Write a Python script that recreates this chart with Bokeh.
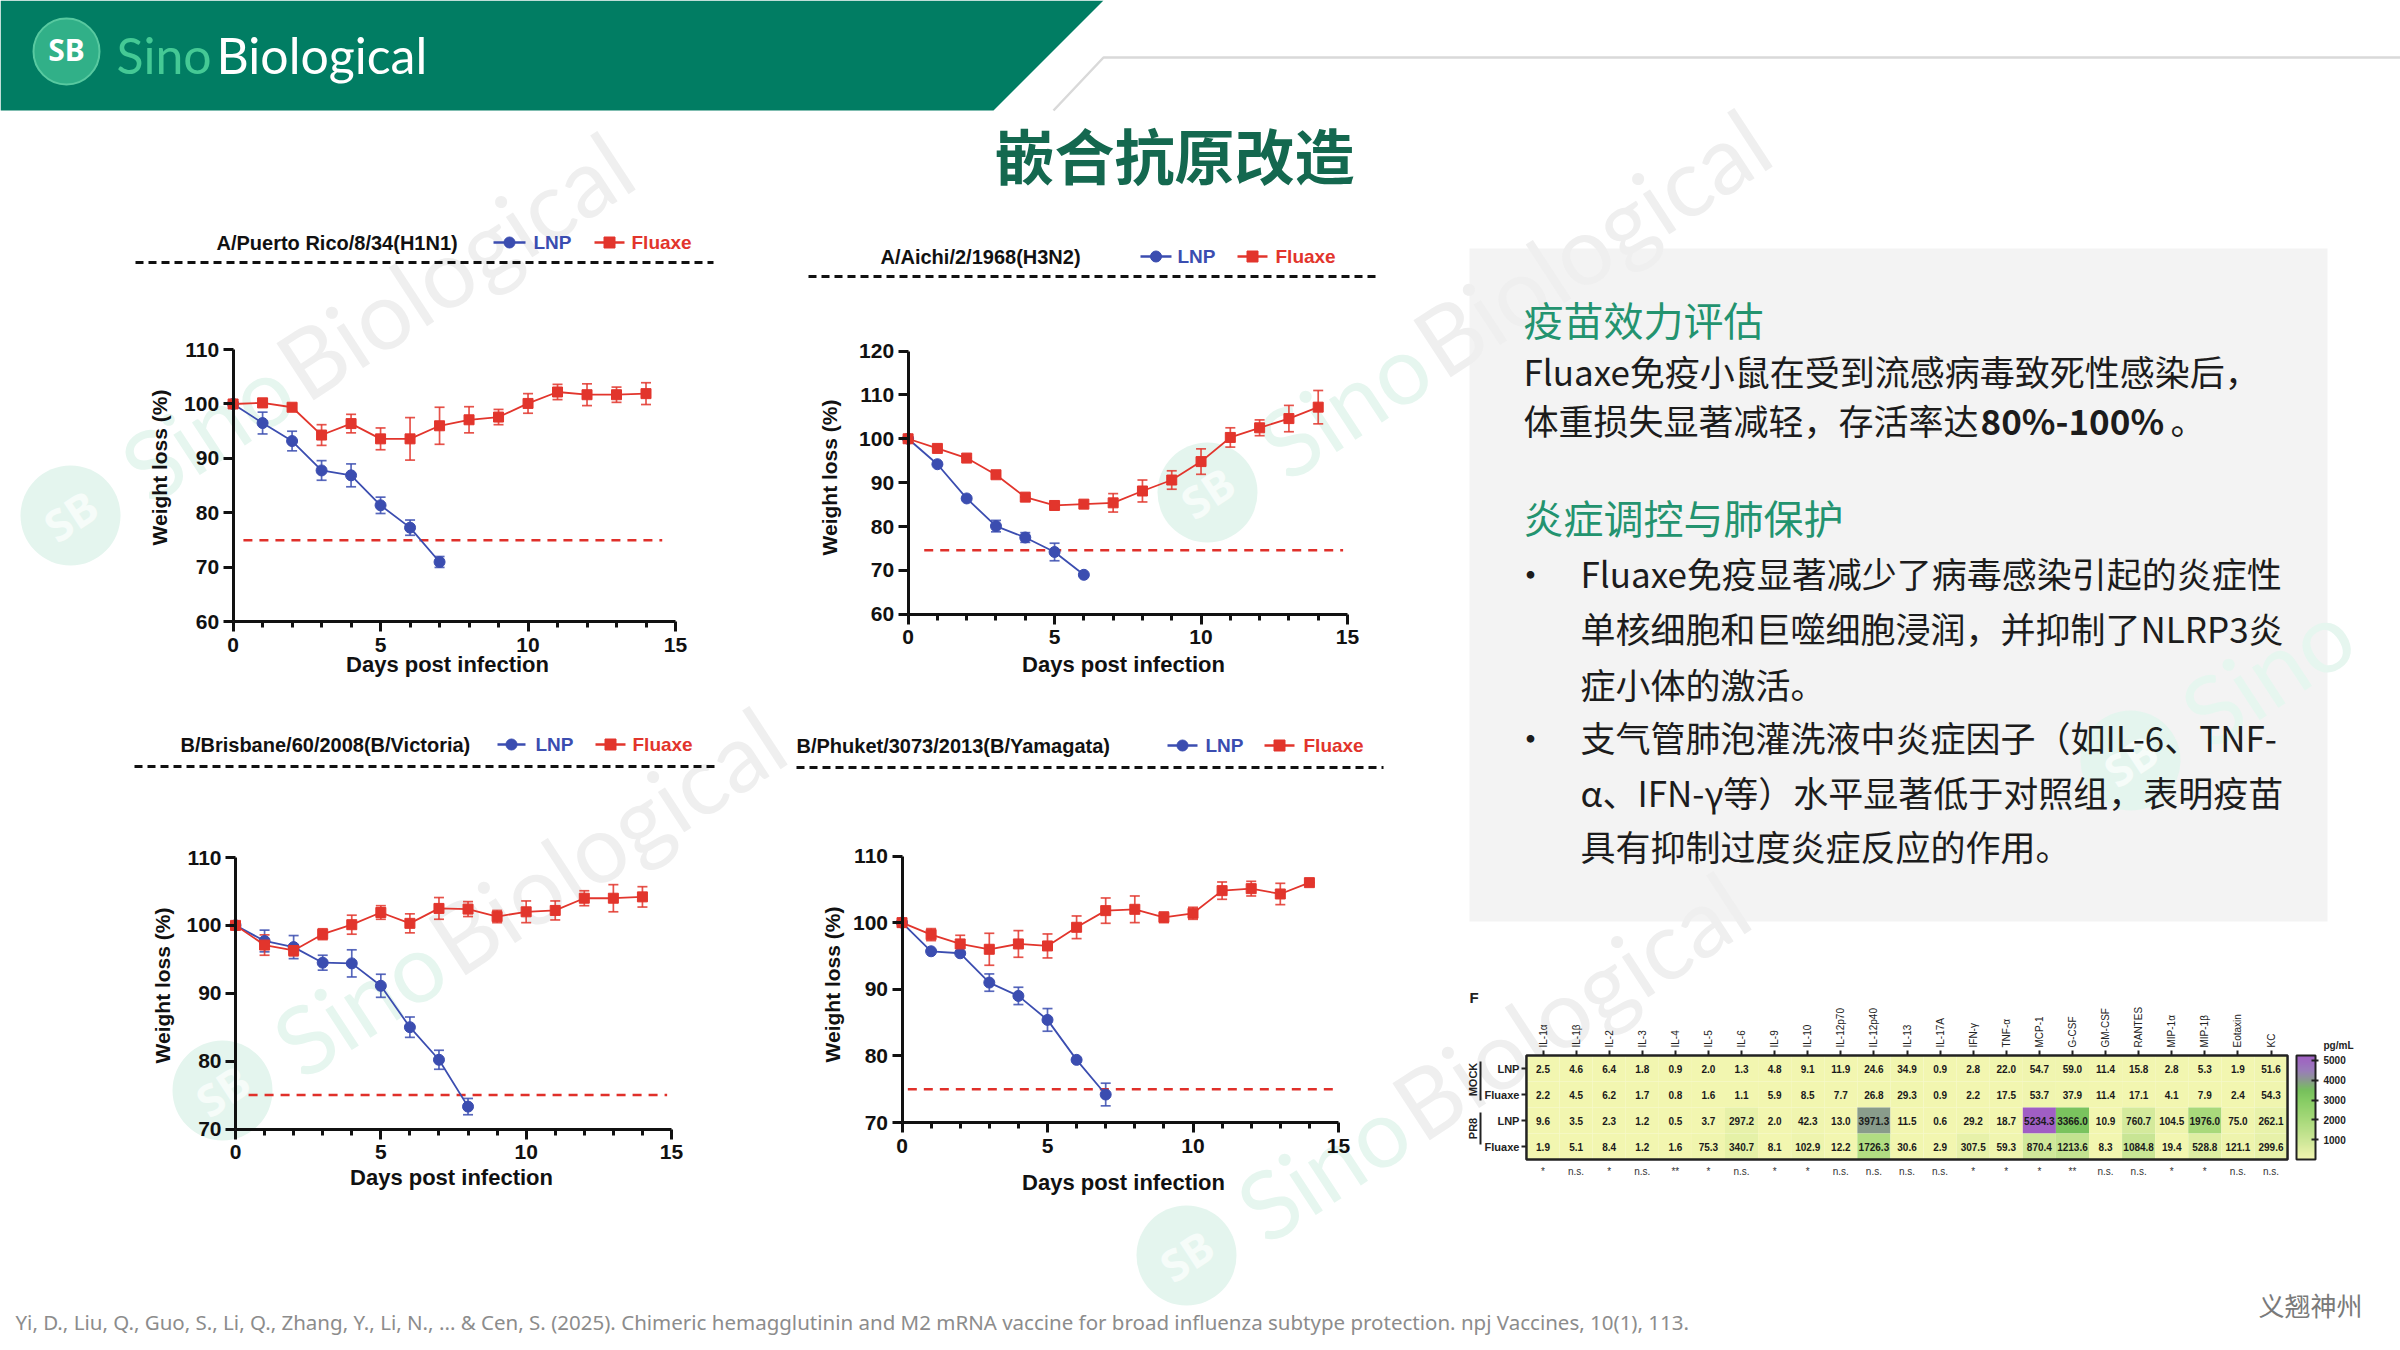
import math
import numpy as np
from bokeh.plotting import figure
from bokeh.models import (Range1d, LinearAxis, FixedTicker, Whisker, TeeHead,
                          ColumnDataSource, LinearColorMapper, ColorBar)
from bokeh.core.properties import value
from bokeh.embed import file_html
from bokeh.resources import INLINE

W, H = 2400, 1350

# ---------------- body weight after challenge (% of day 0, mean and SEM) ----------------
DAYS = list(range(15))
X_TICKS = [0, 5, 10, 15]

H1N1_LNP = [100.0, 96.5, 93.2, 87.8, 86.9, 81.4, 77.3, 71.0]
H1N1_LNP_ERR = [0.0, 2.0, 1.8, 1.8, 2.1, 1.5, 1.4, 1.0]
H1N1_FLUAXE = [100.0, 100.2, 99.4, 94.3, 96.4, 93.6, 93.6, 96.0, 97.1, 97.6, 100.1, 102.2, 101.7, 101.7, 101.9]
H1N1_FLUAXE_ERR = [0.0, 0.8, 0.6, 1.9, 1.7, 2.0, 3.9, 3.4, 2.4, 1.4, 1.8, 1.4, 2.0, 1.4, 2.0]

H3N2_LNP = [100.0, 94.2, 86.4, 80.1, 77.5, 74.2, 69.0]
H3N2_LNP_ERR = [0.0, 0.0, 0.0, 1.3, 1.1, 2.0, 0.0]
H3N2_FLUAXE = [100.0, 97.8, 95.6, 91.8, 86.7, 84.8, 85.1, 85.4, 88.1, 90.6, 94.8, 100.3, 102.5, 104.6, 107.2]
H3N2_FLUAXE_ERR = [0.0, 0.0, 0.0, 0.0, 0.0, 0.0, 0.0, 2.1, 2.5, 2.1, 2.9, 2.2, 1.8, 3.0, 3.8]

BVIC_LNP = [100.0, 97.7, 96.8, 94.5, 94.4, 91.1, 85.0, 80.2, 73.3]
BVIC_LNP_ERR = [0.0, 1.6, 1.7, 1.1, 2.0, 1.7, 1.5, 1.4, 1.2]
BVIC_FLUAXE = [100.0, 97.1, 96.3, 98.7, 100.1, 101.9, 100.3, 102.5, 102.4, 101.3, 102.0, 102.2, 104.0, 104.0, 104.2]
BVIC_FLUAXE_ERR = [0.0, 1.5, 0.8, 0.8, 1.4, 1.0, 1.4, 1.6, 1.1, 0.9, 1.6, 1.4, 1.1, 2.0, 1.5]

BYAM_LNP = [100.0, 95.7, 95.4, 91.0, 89.0, 85.4, 79.4, 74.2]
BYAM_LNP_ERR = [0.0, 0.0, 0.0, 1.3, 1.3, 1.7, 0.0, 1.7]
BYAM_FLUAXE = [100.0, 98.2, 96.8, 96.0, 96.8, 96.5, 99.3, 101.8, 102.0, 100.8, 101.4, 104.8, 105.1, 104.3, 106.0]
BYAM_FLUAXE_ERR = [0.0, 0.9, 1.3, 2.4, 2.0, 1.8, 1.7, 1.9, 2.0, 0.8, 0.9, 1.3, 1.1, 1.6, 0.0]

STRAINS = ["A/Puerto Rico/8/34(H1N1)", "A/Aichi/2/1968(H3N2)",
           "B/Brisbane/60/2008(B/Victoria)", "B/Phuket/3073/2013(B/Yamagata)"]
Y_TICKS = [[60, 70, 80, 90, 100, 110], [60, 70, 80, 90, 100, 110, 120],
           [70, 80, 90, 100, 110], [70, 80, 90, 100, 110]]
CUTOFF = [75.0, 74.6, 75.0, 75.0]

SERIES = [(H1N1_LNP, H1N1_LNP_ERR, H1N1_FLUAXE, H1N1_FLUAXE_ERR),
          (H3N2_LNP, H3N2_LNP_ERR, H3N2_FLUAXE, H3N2_FLUAXE_ERR),
          (BVIC_LNP, BVIC_LNP_ERR, BVIC_FLUAXE, BVIC_FLUAXE_ERR),
          (BYAM_LNP, BYAM_LNP_ERR, BYAM_FLUAXE, BYAM_FLUAXE_ERR)]

# ---------------- BALF cytokines (pg/mL) ----------------
CYTOKINES = ["IL-1α", "IL-1β", "IL-2", "IL-3", "IL-4", "IL-5", "IL-6", "IL-9", "IL-10",
             "IL-12p70", "IL-12p40", "IL-13", "IL-17A", "IFN-γ", "TNF-α", "MCP-1", "G-CSF",
             "GM-CSF", "RANTES", "MIP-1α", "MIP-1β", "Eotaxin", "KC"]
GROUP_ROWS = ["LNP", "Fluaxe", "LNP", "Fluaxe"]
MOCK_LNP = [2.5, 4.6, 6.4, 1.8, 0.9, 2.0, 1.3, 4.8, 9.1, 11.9, 24.6, 34.9, 0.9, 2.8, 22.0,
            54.7, 59.0, 11.4, 15.8, 2.8, 5.3, 1.9, 51.6]
MOCK_FLUAXE = [2.2, 4.5, 6.2, 1.7, 0.8, 1.6, 1.1, 5.9, 8.5, 7.7, 26.8, 29.3, 0.9, 2.2, 17.5,
               53.7, 37.9, 11.4, 17.1, 4.1, 7.9, 2.4, 54.3]
PR8_LNP = [9.6, 3.5, 2.3, 1.2, 0.5, 3.7, 297.2, 2.0, 42.3, 13.0, 3971.3, 11.5, 0.6, 29.2, 18.7,
           5234.3, 3366.0, 10.9, 760.7, 104.5, 1976.0, 75.0, 262.1]
PR8_FLUAXE = [1.9, 5.1, 8.4, 1.2, 1.6, 75.3, 340.7, 8.1, 102.9, 12.2, 1726.3, 30.6, 2.9, 307.5,
              59.3, 870.4, 1213.6, 8.3, 1084.8, 19.4, 528.8, 121.1, 299.6]
SIGNIF = ["*", "n.s.", "*", "n.s.", "**", "*", "n.s.", "*", "*", "n.s.", "n.s.", "n.s.", "n.s.",
          "*", "*", "*", "**", "n.s.", "n.s.", "*", "*", "n.s.", "n.s."]
CBAR_TICKS = [1000, 2000, 3000, 4000, 5000]

# ---------------- styling / layout ----------------
BLUE = "#3b4db0"
RED = "#e2352c"
ARIAL = value("Liberation Sans")
CJK = value("Noto Sans CJK SC")

# pixel anchors of each panel on the slide
PANEL_LAYOUT = [
    dict(px=(232.6, 675.0), py=((110, 349.0), (60, 621.4)), title_at=(216, 242),
         lnp_leg=(493, 525, 533), flu_leg=(594, 624, 631), rule=(135, 713, 262),
         ylab=(159, 467), xlab=(447, 664), cut_x=(0.35, 14.55)),
    dict(px=(907.6, 1347.0), py=((120, 350.5), (60, 613.8)), title_at=(880, 256),
         lnp_leg=(1140, 1171, 1177), flu_leg=(1237, 1267, 1275), rule=(808, 1376, 276),
         ylab=(829, 477), xlab=(1123, 664), cut_x=(0.55, 14.85)),
    dict(px=(235.0, 671.0), py=((110, 857.0), (70, 1128.5)), title_at=(180, 744),
         lnp_leg=(497, 525, 535), flu_leg=(595, 625, 632), rule=(134, 715, 766),
         ylab=(162, 985), xlab=(451, 1177), cut_x=(0.45, 14.85)),
    dict(px=(901.5, 1338.0), py=((110, 855.5), (70, 1122.0)), title_at=(796, 745),
         lnp_leg=(1167, 1197, 1205), flu_leg=(1264, 1294, 1303), rule=(796, 1383, 767),
         ylab=(832, 984), xlab=(1123, 1182), cut_x=(0.2, 14.9)),
]

# faint brand marks in the slide background: (circle centre x, y, show full name)
WATERMARKS = [(70, 515, True), (222, 1090, True), (1207, 492, True), (1186, 1255, True),
              (2130, 760, False)]
WM_ANGLE = 0.58


def lin_range(v1, p1, v2, p2, pa, pb):
    """Range whose values map v1->p1 and v2->p2 when the frame spans pa..pb."""
    k = (v2 - v1) / (p2 - p1)
    return Range1d(start=v1 + (pa - p1) * k, end=v1 + (pb - p1) * k)


def ramp(stops, n=256):
    vals = np.array([s for s, _ in stops], float)
    rgb = np.array([[int(c[i:i + 2], 16) for i in (1, 3, 5)] for _, c in stops], float)
    t = np.linspace(vals[0], vals[-1], n)
    out = np.stack([np.interp(t, vals, rgb[:, k]) for k in range(3)], axis=1)
    return ["#%02x%02x%02x" % tuple(int(round(c)) for c in row) for row in out]


p = figure(width=W, height=H, x_range=Range1d(0, W), y_range=Range1d(H, 0),
           x_axis_type=None, y_axis_type=None, toolbar_location=None,
           output_backend="svg", min_border=0, outline_line_color=None,
           background_fill_color="white", border_fill_color="white")

xr, yr = {}, {}
for i, lay in enumerate(PANEL_LAYOUT):
    xr[f"dx{i}"] = lin_range(X_TICKS[0], lay["px"][0], X_TICKS[-1], lay["px"][1], 0, W)
    (va, pa), (vb, pb) = lay["py"]
    yr[f"wy{i}"] = lin_range(va, pa, vb, pb, H, 0)
xr["hx"] = lin_range(0, 1542.5, len(CYTOKINES) - 1, 2270.5, 0, W)
yr["hy"] = lin_range(0, 1068.0, len(GROUP_ROWS) - 1, 1146.0, H, 0)
p.extra_x_ranges = xr
p.extra_y_ranges = yr

# ---------------- background: text panel and brand marks ----------------
p.quad(left=[1469], right=[2327], top=[248], bottom=[921], fill_color="#f3f3f3",
       line_color=None, level="underlay")
dxw, dyw = math.cos(WM_ANGLE), -math.sin(WM_ANGLE)
for cx, cy, full in WATERMARKS:
    p.circle(x=[cx], y=[cy], radius=50, fill_color="#e4f5ee", line_color=None, level="underlay")
    p.text(x=[cx], y=[cy], text=["SB"], angle=WM_ANGLE, text_font=value("Noto Sans"),
           text_font_style="bold", text_font_size="44px", text_color="#f6fcf9",
           text_align="center", text_baseline="middle", level="underlay")
    sx, sy = cx + 72 * dxw, cy + 72 * dyw
    p.text(x=[sx], y=[sy], text=["Sino"], angle=WM_ANGLE, text_font=value("Lato"),
           text_font_size="95px", text_color="#e6f6ef", text_baseline="middle", level="underlay")
    if full:
        bx, by = sx + 186 * dxw, sy + 186 * dyw
        p.text(x=[bx], y=[by], text=["Biological"], angle=WM_ANGLE, text_font=value("Lato"),
               text_font_size="95px", text_color="#efefef", text_baseline="middle",
               level="underlay")

# ---------------- slide header ----------------
p.patch([0, 1103, 993, 0], [0, 0, 110, 110], fill_color="#017d63", line_color=None)
p.line([1053, 1103, W], [110, 57, 57], line_color="#d9d9d9", line_width=2.5)
p.circle(x=[66], y=[51], radius=33, fill_color="#31b088", line_color="#58c9a0", line_width=2)
p.text(x=[66], y=[49], text=["SB"], text_font=value("Noto Sans"), text_font_style="bold",
       text_font_size="30px", text_color="white", text_align="center", text_baseline="middle")
p.text(x=[116], y=[54], text=["Sino"], text_font=value("Lato"), text_font_size="50px",
       text_color="#45c995", text_baseline="middle")
p.text(x=[216], y=[54], text=["Biological"], text_font=value("Lato"), text_font_size="50px",
       text_color="white", text_baseline="middle")
p.text(x=[1174], y=[153], text=["嵌合抗原改造"], text_font=CJK, text_font_style="bold",
       text_font_size="60px", text_color="#14684f", text_align="center", text_baseline="middle")

# ---------------- weight-loss panels ----------------
for i, (lay, (lnp, lnp_e, flu, flu_e)) in enumerate(zip(PANEL_LAYOUT, SERIES)):
    xn, yn = f"dx{i}", f"wy{i}"
    yt = Y_TICKS[i]

    # strain title, legend and dotted rule
    tx, ty = lay["title_at"]
    p.text(x=[tx], y=[ty], text=[STRAINS[i]], text_font=ARIAL, text_font_style="bold",
           text_font_size="20px", text_color="#111111", text_baseline="middle")
    for (x0, x1, xt), col, mk, name in ((lay["lnp_leg"], BLUE, "circle", "LNP"),
                                        (lay["flu_leg"], RED, "square", "Fluaxe")):
        p.line([x0, x1], [ty, ty], line_color=col, line_width=2.5)
        p.scatter(x=[(x0 + x1) / 2], y=[ty], marker=mk, size=11, fill_color=col, line_color=col)
        p.text(x=[xt], y=[ty], text=[name], text_font=ARIAL, text_font_style="bold",
               text_font_size="19px", text_color=col, text_baseline="middle")
    rx0, rx1, ry = lay["rule"]
    p.line([rx0, rx1], [ry, ry], line_color="#111111", line_width=3, line_dash="8 5")

    # axis titles
    p.text(x=[lay["ylab"][0]], y=[lay["ylab"][1]], text=["Weight loss (%)"], angle=math.pi / 2,
           text_font=ARIAL, text_font_style="bold", text_font_size="21px",
           text_color="#111111", text_align="center", text_baseline="middle")
    p.text(x=[lay["xlab"][0]], y=[lay["xlab"][1]], text=["Days post infection"],
           text_font=ARIAL, text_font_style="bold", text_font_size="22px",
           text_color="#111111", text_align="center", text_baseline="middle")

    # survival cut-off
    c0, c1 = lay["cut_x"]
    p.line([c0, c1], [CUTOFF[i], CUTOFF[i]], x_range_name=xn, y_range_name=yn,
           line_color="#e0302a", line_width=2.6, line_dash="9 7")

    # series with SEM whiskers
    for vals, errs, col, mk, sz in ((lnp, lnp_e, BLUE, "circle", 11),
                                    (flu, flu_e, RED, "square", 10)):
        d = DAYS[:len(vals)]
        src = ColumnDataSource(dict(x=d, y=vals,
                                    lo=[v - e for v, e in zip(vals, errs)],
                                    hi=[v + e for v, e in zip(vals, errs)]))
        p.add_layout(Whisker(base="x", lower="lo", upper="hi", source=src, dimension="height",
                             x_range_name=xn, y_range_name=yn, line_color=col, line_width=1.7,
                             line_alpha=0.85,
                             lower_head=TeeHead(size=10, line_color=col, line_width=1.7, line_alpha=0.85),
                             upper_head=TeeHead(size=10, line_color=col, line_width=1.7, line_alpha=0.85)))
        p.line("x", "y", source=src, x_range_name=xn, y_range_name=yn,
               line_color=col, line_width=1.8)
        p.scatter("x", "y", source=src, x_range_name=xn, y_range_name=yn, marker=mk,
                  size=sz, fill_color=col, line_color=col)

    axis_style = dict(axis_line_width=3, axis_line_color="#111111",
                      major_tick_line_width=3, major_tick_line_color="#111111",
                      major_tick_in=0, major_tick_out=10,
                      minor_tick_line_width=3, minor_tick_line_color="#111111",
                      minor_tick_in=0, minor_tick_out=6,
                      major_label_text_font="Liberation Sans", major_label_text_font_style="bold",
                      major_label_text_font_size="21px", major_label_text_color="#111111")
    xa = LinearAxis(x_range_name=xn, y_range_name=yn, fixed_location=yt[0],
                    bounds=(X_TICKS[0], X_TICKS[-1]),
                    ticker=FixedTicker(ticks=X_TICKS,
                                       minor_ticks=[d for d in DAYS[1:] if d not in X_TICKS]),
                    major_label_standoff=6, **axis_style)
    p.add_layout(xa, "below")
    ya = LinearAxis(x_range_name=xn, y_range_name=yn, fixed_location=X_TICKS[0],
                    bounds=(yt[0], yt[-1]), ticker=FixedTicker(ticks=yt, minor_ticks=[]),
                    major_label_standoff=4, **axis_style)
    p.add_layout(ya, "left")

# ---------------- text panel ----------------
HEAD = "#23936f"
BODY = "#1c1c1c"
p.text(x=[1523, 1523], y=[318, 516], text=["疫苗效力评估", "炎症调控与肺保护"], text_font=CJK,
       text_font_size="40px", text_color=HEAD, text_baseline="middle")
p.text(x=[1523, 1523], y=[370, 419],
       text=["Fluaxe免疫小鼠在受到流感病毒致死性感染后，", "体重损失显著减轻，存活率达"],
       text_font=CJK, text_font_size="35px", text_color=BODY, text_baseline="middle")
p.text(x=[1980], y=[419], text=["80%-100%"], text_font=CJK, text_font_style="bold",
       text_font_size="35px", text_color=BODY, text_baseline="middle")
p.text(x=[2170], y=[419], text=["。"], text_font=CJK, text_font_size="35px",
       text_color=BODY, text_baseline="middle")
p.text(x=[1512, 1512], y=[572, 736], text=["•", "•"], text_font=CJK, text_font_size="36px",
       text_color=BODY, text_baseline="middle")
p.text(x=[1580] * 6, y=[572, 627, 683, 736, 791, 845],
       text=["Fluaxe免疫显著减少了病毒感染引起的炎症性",
             "单核细胞和巨噬细胞浸润，并抑制了NLRP3炎",
             "症小体的激活。",
             "支气管肺泡灌洗液中炎症因子（如IL-6、TNF-",
             "α、IFN-γ等）水平显著低于对照组，表明疫苗",
             "具有抑制过度炎症反应的作用。"],
       text_font=CJK, text_font_size="35px", text_color=BODY, text_baseline="middle")

# ---------------- cytokine heatmap ----------------
palette = ramp([(0, "#f2f6b0"), (1000, "#cbe696"), (2000, "#a7d97a"), (3000, "#86cc64"),
                (3500, "#76c05c"), (4000, "#8a9a8e"), (4500, "#9a7cba"), (5250, "#a05ec4")])
mapper = LinearColorMapper(palette=palette, low=0, high=5250)

rows_vals = [MOCK_LNP, MOCK_FLUAXE, PR8_LNP, PR8_FLUAXE]
cells = dict(col=[], row=[], val=[], label=[])
for r, vals in enumerate(rows_vals):
    for c, v in enumerate(vals):
        cells["col"].append(c)
        cells["row"].append(r)
        cells["val"].append(v)
        cells["label"].append(f"{v:.1f}")
hsrc = ColumnDataSource(cells)
p.rect(x="col", y="row", width=1, height=1, source=hsrc, x_range_name="hx", y_range_name="hy",
       fill_color={"field": "val", "transform": mapper}, line_color=None)
p.text(x="col", y="row", text="label", source=hsrc, x_range_name="hx", y_range_name="hy",
       text_font=ARIAL, text_font_style="bold", text_font_size="10px", text_color="#1a1a1a",
       text_align="center", text_baseline="middle")
ncol, nrow = len(CYTOKINES), len(GROUP_ROWS)
p.quad(left=[-0.5], right=[ncol - 0.5], top=[-0.5], bottom=[nrow - 0.5],
       x_range_name="hx", y_range_name="hy", fill_color=None, line_color="#222222", line_width=2.5)
p.text(x=list(range(ncol)), y=[nrow - 0.5 + 0.46] * ncol, text=SIGNIF,
       x_range_name="hx", y_range_name="hy", text_font=ARIAL, text_font_size="10px",
       text_color="#333333", text_align="center", text_baseline="middle")

col_axis = LinearAxis(x_range_name="hx", y_range_name="hy", fixed_location=-0.5,
                      ticker=FixedTicker(ticks=list(range(ncol)), minor_ticks=[]),
                      major_label_overrides={i: n for i, n in enumerate(CYTOKINES)},
                      major_label_orientation="vertical", axis_line_color=None,
                      major_tick_line_width=2, major_tick_line_color="#222222",
                      major_tick_in=0, major_tick_out=5, major_label_standoff=3,
                      major_label_text_font="Liberation Sans", major_label_text_font_size="10px",
                      major_label_text_color="#222222")
p.add_layout(col_axis, "above")
row_axis = LinearAxis(x_range_name="hx", y_range_name="hy", fixed_location=-0.5,
                      ticker=FixedTicker(ticks=list(range(nrow)), minor_ticks=[]),
                      major_label_overrides={i: n for i, n in enumerate(GROUP_ROWS)},
                      axis_line_color=None, major_tick_line_width=2,
                      major_tick_line_color="#222222", major_tick_in=0, major_tick_out=5,
                      major_label_standoff=2, major_label_text_font="Liberation Sans",
                      major_label_text_font_style="bold", major_label_text_font_size="11px",
                      major_label_text_color="#222222")
p.add_layout(row_axis, "left")

p.text(x=[1469], y=[997], text=["F"], text_font=ARIAL, text_font_style="bold",
       text_font_size="15px", text_color="#222222", text_baseline="middle")
p.text(x=[1472, 1472], y=[1079, 1128], text=["MOCK", "PR8"], angle=math.pi / 2,
       text_font=ARIAL, text_font_style="bold", text_font_size="11px", text_color="#222222",
       text_align="center", text_baseline="middle")
p.segment(x0=[1480, 1480], y0=[1061, 1112], x1=[1480, 1480], y1=[1100, 1144],
          line_color="#222222", line_width=2)

cbar = ColorBar(color_mapper=mapper, ticker=FixedTicker(ticks=CBAR_TICKS), width=19, height=104,
                location=(2296, H - 1159), orientation="vertical", padding=0, margin=0,
                bar_line_color="#222222", bar_line_width=2, major_tick_line_color="#222222",
                major_tick_line_width=2, major_tick_in=4, major_tick_out=3, label_standoff=5,
                major_label_text_font="Liberation Sans", major_label_text_font_style="bold",
                major_label_text_font_size="10px", major_label_text_color="#222222",
                background_fill_alpha=0, border_line_color=None)
p.add_layout(cbar)
p.text(x=[2323], y=[1045], text=["pg/mL"], text_font=ARIAL, text_font_style="bold",
       text_font_size="10px", text_color="#222222", text_baseline="middle")

# ---------------- footer ----------------
p.text(x=[15], y=[1321],
       text=["Yi, D., Liu, Q., Guo, S., Li, Q., Zhang, Y., Li, N., ... & Cen, S. (2025). Chimeric "
             "hemagglutinin and M2 mRNA vaccine for broad influenza subtype protection. "
             "npj Vaccines, 10(1), 113."],
       text_font=value("Noto Sans"), text_font_size="20.5px", text_color="#8c8c8c",
       text_baseline="middle")
p.text(x=[2258], y=[1304], text=["义翘神州"], text_font=CJK, text_font_size="26px",
       text_color="#7a7a7a", text_baseline="middle")

open("out.html", "w").write(file_html(p, INLINE))
